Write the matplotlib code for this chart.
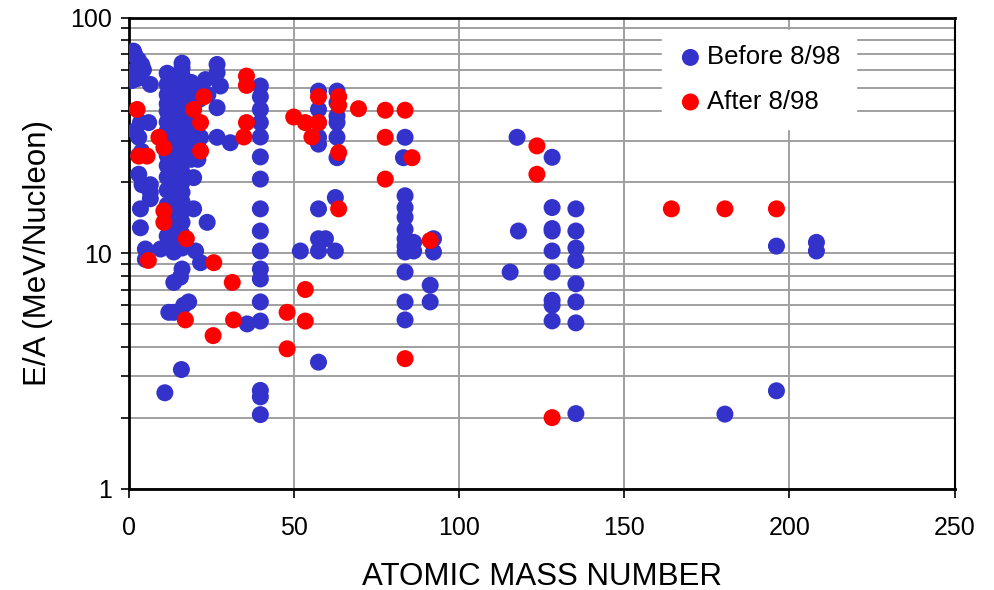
import matplotlib.pyplot as plt
from matplotlib.ticker import LogLocator, FixedLocator, NullFormatter

plt.rcParams['font.family'] = ['Liberation Sans', 'DejaVu Sans']

# Before 8/98 (atomic mass number, E/A in MeV/nucleon)
before_A = [
    1.5, 2.0, 3.0, 4.0, 1.5, 4.5, 2.6, 6.6, 1.0, 3.6,
    3.6, 6.1, 3.1, 2.0, 3.1, 4.0, 3.1, 4.1, 6.6, 6.6, 6.6, 3.6, 3.6, 5.1, 5.1, 9.7,
    11.7, 11.7, 11.7, 11.7, 11.7, 11.7, 11.7, 11.7, 11.7, 11.7, 11.7, 11.7, 11.7, 11.7, 11.7, 12.7, 11.7, 12.2, 11.0,
    14.0, 14.0, 14.0, 14.0, 14.0, 14.0, 14.0, 14.0, 14.0, 14.0, 14.0, 14.0, 14.0, 14.0, 13.7, 13.7, 13.7, 13.7,
    16.2, 16.2, 16.2, 16.2, 16.2, 16.2, 16.2, 16.2, 16.2, 16.2, 16.2, 16.2, 16.2, 16.2, 16.2, 16.2, 16.2, 16.2,
    16.2, 16.2, 16.2, 15.7, 16.7, 16.0,
    19.0, 19.0, 19.0, 19.0, 19.0, 19.0, 19.0, 19.0, 19.0, 19.7, 19.7, 20.3, 18.2,
    21.0, 21.5, 21.8, 21.0, 21.0, 23.8, 21.8, 23.3, 24.0,
    26.8, 26.8, 27.8, 26.8, 26.8, 30.8, 35.9,
    39.9, 39.9, 39.9, 39.9, 39.9, 39.9, 39.9, 39.9, 39.9, 39.9, 39.9, 39.9, 39.9, 39.9, 39.9, 39.9, 39.9,
    52.0, 57.5, 57.5, 57.5, 57.5, 57.5, 57.5, 57.5, 59.6, 57.5, 57.5,
    63.1, 63.1, 63.1, 63.1, 63.1, 63.1, 62.6, 62.6,
    83.7, 83.2, 83.7, 83.7, 83.7, 83.7, 83.7, 83.7, 83.7, 86.3, 86.3, 83.7, 83.7, 83.7,
    92.3, 92.3, 91.3, 91.3,
    115.5, 117.6, 118.0,
    128.2, 128.2, 128.2, 128.2, 128.2, 128.2, 128.2, 128.2, 128.2,
    135.4, 135.4, 135.4, 135.4, 135.4, 135.4, 135.4, 135.4,
    196.1, 208.2, 208.2, 196.1, 180.5,
]
before_E = [
    72, 69, 66, 63, 59, 60, 55, 52, 54, 57,
    35.8, 35.8, 31, 33, 26, 27, 21.6, 19.5, 19.5, 18.1, 17, 15.4, 12.8, 10.4, 9.4, 10.4,
    58, 52, 47, 43, 40, 36, 33, 31, 28, 26, 23.5, 21, 18.5, 16, 14.5, 13, 11.8, 5.6, 2.55,
    55, 48, 44, 40, 37, 34, 31, 28, 25, 22, 20, 18, 16, 12.5, 11, 10.1, 7.5, 5.6,
    64, 61, 57, 52, 48, 44, 40, 36, 33, 30, 27, 24, 22, 20, 18.1, 16.5, 15, 13.5,
    12, 10.5, 8.55, 7.9, 6.0, 3.2,
    53, 48, 44, 40, 36, 33, 30, 27, 25, 20.9, 15.4, 10.2, 6.2,
    50, 45, 31, 28, 25, 13.5, 9.1, 54.5, 47,
    63.2, 58.3, 51.2, 41.4, 31, 29.4, 5.0,
    51.2, 46.1, 40.7, 35.8, 31.1, 25.6, 20.6, 15.4, 12.4, 10.2, 8.55, 7.76, 6.2, 5.14, 2.61, 2.45, 2.06,
    10.2, 48.7, 40.7, 35.8, 31, 29, 15.4, 11.5, 11.5, 10.2, 3.44,
    48.7, 43.5, 38.2, 35.8, 31, 25.4, 17.2, 10.2,
    31, 25.4, 17.5, 15.6, 14.2, 12.6, 11.5, 10.7, 10.1, 11.1, 10.2, 8.3, 6.2, 5.2,
    11.5, 10.1, 7.3, 6.2,
    8.3, 31, 12.4,
    25.5, 15.6, 12.7, 12.4, 10.2, 8.3, 6.3, 6.0, 5.15,
    15.4, 12.4, 10.5, 9.3, 7.4, 6.2, 5.05, 2.08,
    10.7, 11.1, 10.2, 2.6, 2.07,
]

# After 8/98
after_A = [
    2.6, 3.1, 5.6, 6.0, 9.2, 10.7, 10.7, 10.7, 17.5, 17.2,
    19.7, 21.8, 21.8, 22.8, 25.6, 25.8, 31.4, 31.8, 34.9, 35.7,
    35.7, 35.7, 48.0, 48.0, 50.0, 53.5, 53.5, 53.5, 55.5, 57.5,
    57.5, 63.6, 63.6, 63.6, 63.6, 69.6, 77.7, 77.7, 77.7, 83.7,
    85.8, 83.7, 91.3, 123.6, 123.6, 128.2, 164.3, 180.5, 196.1,
]
after_E = [
    40.7, 25.8, 25.8, 9.3, 31, 28, 15.1, 13.5, 11.5, 5.2,
    40.7, 35.8, 27.1, 46.1, 4.46, 9.1, 7.5, 5.2, 31.1, 35.8,
    56.4, 51.5, 5.6, 3.92, 37.8, 35.8, 7.0, 5.14, 31.1, 46.1,
    35.8, 46.1, 42.4, 26.7, 15.4, 41, 40.4, 31, 20.6, 40.4,
    25.4, 3.56, 11.3, 28.5, 21.6, 2.0, 15.4, 15.4, 15.4,
]

fig = plt.figure(figsize=(9.94, 5.9), dpi=100)
ax = fig.add_axes([0.1293, 0.1720, 0.8310, 0.7983])

ax.scatter(before_A, before_E, s=150, color='#3333CC', edgecolors='none',
           label='Before 8/98', zorder=3)
ax.scatter(after_A, after_E, s=150, color='#FF0000', edgecolors='none',
           label='After 8/98', zorder=4)

ax.set_yscale('log')
ax.set_xlim(0, 250)
ax.set_ylim(1, 100)
ax.xaxis.set_major_locator(FixedLocator([0, 50, 100, 150, 200, 250]))
ax.yaxis.set_major_locator(FixedLocator([1, 10, 100]))
ax.yaxis.set_major_formatter(plt.FuncFormatter(lambda v, p: f'{v:g}'))
ax.yaxis.set_minor_locator(LogLocator(base=10, subs=range(2, 10)))
ax.yaxis.set_minor_formatter(NullFormatter())

ax.grid(True, which='both', axis='y', color='#A0A0A0', linewidth=1.4, zorder=0)
ax.grid(True, which='major', axis='x', color='#A0A0A0', linewidth=1.4, zorder=0)
ax.set_axisbelow(True)

for side in ['left', 'bottom', 'top']:
    ax.spines[side].set_linewidth(2)
ax.spines['right'].set_linewidth(1.5)
for s in ax.spines.values():
    s.set_color('black')

ax.tick_params(axis='x', which='major', direction='out', length=6.5, width=1.2,
               labelsize=18, pad=13)
ax.tick_params(axis='y', which='major', direction='out', length=6, width=1.2,
               labelsize=18, pad=6)
ax.tick_params(axis='y', which='minor', direction='out', length=6, width=1.2)

ax.set_xlabel('ATOMIC MASS NUMBER', fontsize=22.5)
ax.set_ylabel('E/A (MeV/Nucleon)', fontsize=22.5)
ax.xaxis.set_label_coords(0.5, -0.155)
ax.yaxis.set_label_coords(-0.092, 0.5)

leg = ax.legend(loc='upper left', bbox_to_anchor=(0.646, 0.974), frameon=True,
                fontsize=18.5, handlelength=1.0, handletextpad=0.15,
                labelspacing=0.8, borderpad=0.6, borderaxespad=0,
                markerscale=1.0)
leg.get_frame().set_edgecolor('white')
leg.get_frame().set_facecolor('white')
leg.get_frame().set_alpha(1)
leg.get_frame().set_boxstyle('square', pad=0)
leg.set_zorder(5)

fig.savefig('out.png', dpi=100)
